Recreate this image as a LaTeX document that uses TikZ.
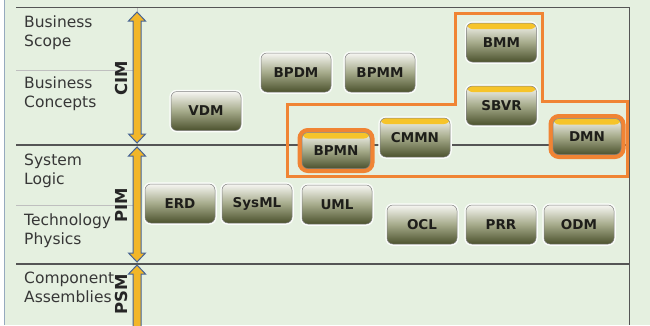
\documentclass[tikz,border=0pt]{standalone}
\usepackage{fontspec}
\setmainfont{DejaVu Sans}
\usepackage{tikz}
\tikzset{>=latex}

\definecolor{bggreen}{RGB}{229,240,224}
\definecolor{edgeblue}{RGB}{150,170,190}
\definecolor{linegray}{RGB}{85,85,85}
\definecolor{rowgray}{RGB}{55,55,55}
\definecolor{hiorange}{RGB}{240,132,52}
\definecolor{baryellow}{RGB}{242,182,40}
\definecolor{barblue}{RGB}{70,100,150}
\definecolor{boxtop}{RGB}{246,246,242}
\definecolor{boxmid}{RGB}{165,170,138}
\definecolor{boxbot}{RGB}{76,82,46}
\definecolor{boxtext}{RGB}{30,30,26}
\definecolor{bandyellow}{RGB}{246,196,42}

\tikzset{
  mbox/.style={rounded corners=6pt, minimum width=70pt, minimum height=39pt, inner sep=0pt,
    draw=black!50, line width=0.5pt, top color=boxtop, bottom color=boxbot, middle color=boxmid,
    font=\fontsize{13.5}{13.5}\selectfont\bfseries, text=boxtext,
    preaction={draw=white!85!bggreen, line width=3.5pt}},
  band/.style={path picture={\fill[bandyellow] (path picture bounding box.north west)
    rectangle ([yshift=-6pt]path picture bounding box.north east);}},
  hilite/.style={minimum width=68pt, minimum height=36pt, preaction={draw=hiorange, line width=9pt}},
  rowtext/.style={anchor=north west, inner sep=0pt, align=left, font=\fontsize{15.5}{19.5}\selectfont, text=rowgray},
  levtext/.style={rotate=90, inner sep=0pt, font=\fontsize{16.5}{16.5}\selectfont\bfseries, text=black!85},
  tabline/.style={draw=linegray, line width=1.3pt},
  subline/.style={draw=black!25, line width=0.6pt}
}

% double headed level bar: x, top tip, bottom tip
\newcommand\levelbar[3]{%
  \filldraw[draw=barblue, fill=baryellow, line width=1pt]
    (#1,#2) -- (#1+8.5,#2+9) -- (#1+4,#2+9) -- (#1+4,#3-9) -- (#1+8.5,#3-9) -- (#1,#3)
    -- (#1-8.5,#3-9) -- (#1-4,#3-9) -- (#1-4,#2+9) -- (#1-8.5,#2+9) -- cycle;}

\begin{document}
\begin{tikzpicture}[x=1pt, y=-1pt]
\useasboundingbox (0,0) rectangle (650,325);
\fill[white] (0,0) rectangle (4,325);
\fill[bggreen] (4,0) rectangle (650,325);
\draw[edgeblue, line width=0.8pt] (4,0) -- (4,325);

% table
\draw[subline] (137,7) -- (137,325);
\draw[subline] (16,70) -- (137,70);
\draw[subline] (16,205) -- (137,205);
\draw[tabline, line width=1pt] (16,7) -- (629,7) -- (629,325);
\draw[tabline] (16,145) -- (629,145);
\draw[tabline] (16,264) -- (629,264);

% zone of the OMG business standards
\draw[hiorange, line width=3pt, line join=miter]
  (455,13) -- (542,13) -- (542,101) -- (627,101) -- (627,176) -- (287,176) -- (287,104) -- (455,104) -- cycle;

% row names
\node[rowtext] (scope) at (24,15.5) {Business\\Scope};
\node[rowtext] (concepts) at (24,76.5) {Business\\Concepts};
\node[rowtext] (logic) at (24,153.5) {System\\Logic};
\node[rowtext] (physics) at (24,213.5) {Technology\\Physics};
\node[rowtext] (assembly) at (24,271.5) {Component\\Assemblies};

% levels
\levelbar{137}{12}{143}
\levelbar{137}{147}{262}
\levelbar{137}{265}{336}
\node[levtext] (cim) at (121,78) {CIM};
\node[levtext] (pim) at (121,205) {PIM};
\node[levtext] (psm) at (121,294) {PSM};

% models
\foreach \name/\x/\y in {BPDM/296/72.5, BPMM/380/72.5, VDM/206/111,
    ERD/180/203.5, SysML/257/203.5, UML/337/204.5, OCL/422/224.5, PRR/501/224.5, ODM/579/224.5}{
  \node[mbox] (\name) at (\x,\y) {\name};
}
\foreach \name/\x/\y in {BMM/501.5/42.5, SBVR/501.5/105.5, CMMN/415/137.5}{
  \node[mbox, band] (\name) at (\x,\y) {\name};
}
\node[mbox, band, hilite] (BPMN) at (336,150.5) {BPMN};
\node[mbox, band, hilite] (DMN) at (587,136.5) {DMN};

\end{tikzpicture}
\end{document}
